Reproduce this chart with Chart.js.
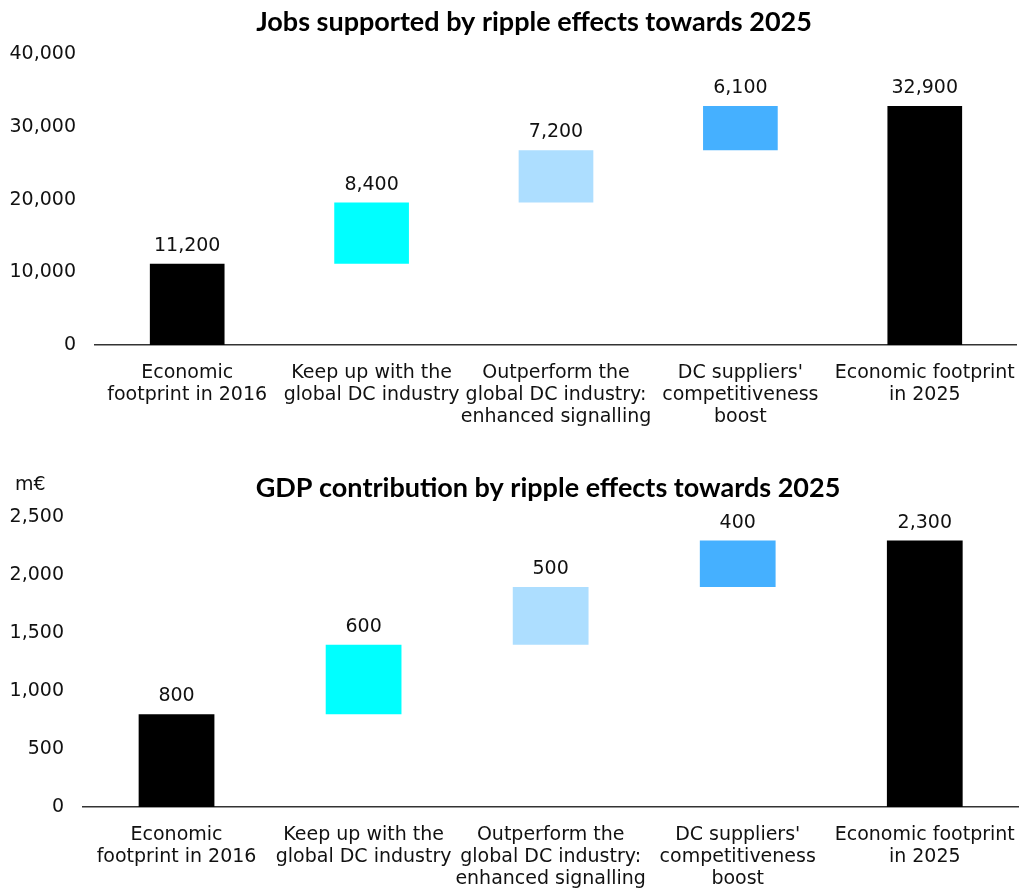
<!DOCTYPE html>
<html>
<head>
<meta charset="utf-8">
<script src="https://cdn.jsdelivr.net/npm/chart.js@4.4.1/dist/chart.umd.min.js"></script>
<style>
  body { margin: 0; background: #fff; width: 1024px; height: 890px; overflow: hidden; }
  .box { position: absolute; left: 0; width: 1024px; height: 440px; }
  #unit { position: absolute; left: 15px; top: 472px; font: 19px "DejaVu Sans", Verdana, sans-serif; color: #111; }
</style>
</head>
<body>
<div class="box" style="top:0"><canvas id="jobs"></canvas></div>
<div class="box" style="top:450px"><canvas id="gdp"></canvas></div>
<div id="unit">m€</div>
<script>
// categories shared by both waterfalls
const categories = [
  ["Economic", "footprint in 2016"],
  ["Keep up with the", "global DC industry"],
  ["Outperform the", "global DC industry:", "enhanced signalling"],
  ["DC suppliers'", "competitiveness", "boost"],
  ["Economic footprint", "in 2025"]
];
// first and last are totals, the middle ones are increments
const stepKind = ["total", "delta", "delta", "delta", "total"];
const stepColors = ["#000000", "#00FFFF", "#ADDEFF", "#45B0FF", "#000000"];

const jobsValues = [11200, 8400, 7200, 6100, 32900];
const jobsTicks = [0, 10000, 20000, 30000, 40000];

const gdpValues = [800, 600, 500, 400, 2300];
const gdpTicks = [0, 500, 1000, 1500, 2000, 2500];

const tickFont = { family: "'DejaVu Sans', Verdana, sans-serif", size: 19, lineHeight: 1.16 };

// turn the step values into floating [from, to] ranges
function floatingBars(values) {
  let running = 0;
  return values.map((v, i) => {
    if (stepKind[i] == "total") {
      running = v;
      return [0, v];
    }
    const from = running;
    running += v;
    return [from, running];
  });
}

// draw the step value above every bar
const valueLabels = {
  id: "valueLabels",
  afterDatasetsDraw(chart, args, opts) {
    const ctx = chart.ctx;
    const meta = chart.getDatasetMeta(0);
    ctx.save();
    ctx.font = "19px 'DejaVu Sans', Verdana, sans-serif";
    ctx.fillStyle = "#111";
    ctx.textAlign = "center";
    ctx.textBaseline = "alphabetic";
    meta.data.forEach((bar, i) => {
      ctx.fillText(opts.values[i].toLocaleString("en-US"), bar.x, bar.y - 13);
    });
    ctx.restore();
  }
};

// the titles sit a bit right of the canvas centre
const titleShift = {
  id: "titleShift",
  afterLayout(chart, args, opts) {
    if (chart.titleBlock) {
      chart.titleBlock.left += opts.dx;
      chart.titleBlock.right += opts.dx;
    }
  }
};

function waterfall(id, title, values, ticks, geo) {
  const ctx = document.getElementById(id).getContext("2d");
  return new Chart(ctx, {
    type: "bar",
    data: {
      labels: categories,
      datasets: [{
        data: floatingBars(values),
        backgroundColor: stepColors,
        borderWidth: 0,
        barPercentage: 0.405,
        categoryPercentage: 1
      }]
    },
    options: {
      responsive: true,
      maintainAspectRatio: false,
      animation: false,
      layout: { padding: { left: 0, right: 2, top: 0, bottom: 0 } },
      plugins: {
        legend: { display: false },
        tooltip: { enabled: false },
        title: {
          display: true,
          text: title,
          color: "#000",
          font: { family: "Lato, 'Open Sans', sans-serif", size: 27, weight: "bold" },
          padding: geo.titlePad
        },
        valueLabels: { values: values },
        titleShift: { dx: geo.titleDx }
      },
      scales: {
        x: {
          grid: { display: false },
          border: { display: true, color: "#333", width: 1.5 },
          ticks: { color: "#111", font: tickFont, padding: geo.xPad, maxRotation: 0, autoSkip: false },
          afterFit: (scale) => { scale.height = geo.xHeight; }
        },
        y: {
          min: ticks[0],
          max: ticks[ticks.length - 1],
          grid: { display: false, drawTicks: false },
          border: { display: false },
          afterBuildTicks: (scale) => { scale.ticks = ticks.map(v => ({ value: v })); },
          ticks: {
            color: "#111",
            font: tickFont,
            padding: 19,
            callback: (v) => v.toLocaleString("en-US")
          },
          afterFit: (scale) => { scale.width = geo.yWidth; }
        }
      }
    },
    plugins: [valueLabels, titleShift]
  });
}

waterfall("jobs", "Jobs supported by ripple effects towards 2025", jobsValues, jobsTicks,
  { titleDx: 23, titlePad: { top: 6, bottom: 16 }, xPad: 9, xHeight: 95, yWidth: 95 });
waterfall("gdp", "GDP contribution by ripple effects towards 2025", gdpValues, gdpTicks,
  { titleDx: 37, titlePad: { top: 22, bottom: 13 }, xPad: 9, xHeight: 83, yWidth: 83 });
</script>
</body>
</html>
